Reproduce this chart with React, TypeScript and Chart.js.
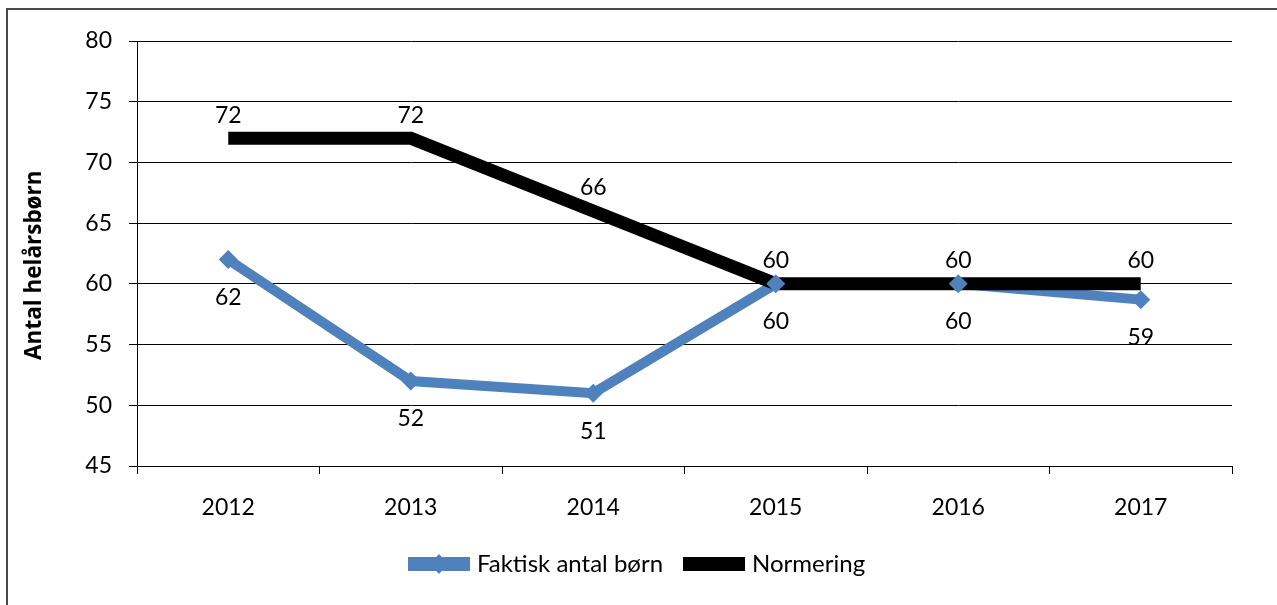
import React, { useEffect, useRef } from "react";
import { Chart, registerables } from "chart.js";

Chart.register(...registerables);

const categories = ["2012", "2013", "2014", "2015", "2016", "2017"];
const faktisk = [62, 52, 51, 60, 60, 58.7];
const normering = [72, 72, 66, 60, 60, 60];
const yTicks = [45, 50, 55, 60, 65, 70, 75, 80];
const yTitle = "Antal helårsbørn";
const faktiskLabel = "Faktisk antal børn";
const normeringLabel = "Normering";

const BLUE = "#4F81BD";
const FONT = "Lato, 'Open Sans', sans-serif";
const TITLE_FONT = "'Open Sans', Lato, sans-serif";

function legendIcon(color: string, diamond: boolean): HTMLCanvasElement {
  const c = document.createElement("canvas");
  c.width = 62;
  c.height = 22;
  const ctx = c.getContext("2d")!;
  ctx.fillStyle = color;
  ctx.fillRect(0, 4, 62, 14);
  if (diamond) {
    ctx.beginPath();
    ctx.moveTo(31, 1);
    ctx.lineTo(40, 11);
    ctx.lineTo(31, 21);
    ctx.lineTo(22, 11);
    ctx.closePath();
    ctx.fill();
  }
  return c;
}

const dataLabelPlugin = {
  id: "dataLabels",
  afterDatasetsDraw(chart: any) {
    const ctx = chart.ctx;
    ctx.save();
    ctx.font = `23px ${FONT}`;
    ctx.fillStyle = "#000";
    ctx.textAlign = "center";
    ctx.textBaseline = "middle";
    const metaN = chart.getDatasetMeta(1);
    metaN.data.forEach((pt: any, i: number) => {
      ctx.fillText(String(Math.round(normering[i])), pt.x, pt.y - 23);
    });
    const metaF = chart.getDatasetMeta(0);
    metaF.data.forEach((pt: any, i: number) => {
      ctx.fillText(String(Math.round(faktisk[i])), pt.x, pt.y + 38);
    });
    ctx.restore();
  },
};

const legendShiftPlugin = {
  id: "legendShift",
  afterLayout(chart: any) {
    if (chart.legend) {
      chart.legend.left += 13;
      chart.legend.right += 13;
    }
  },
};

export default function App() {
  const ref = useRef<HTMLCanvasElement | null>(null);

  useEffect(() => {
    if (!ref.current) return;
    const iconF = legendIcon(BLUE, true);
    const iconN = legendIcon("#000", false);
    const chart = new Chart(ref.current, {
      type: "line",
      data: {
        labels: categories,
        datasets: [
          {
            label: faktiskLabel + " markers",
            data: faktisk,
            showLine: false,
            pointStyle: "rectRot",
            pointRadius: 9.5,
            pointBackgroundColor: BLUE,
            pointBorderColor: BLUE,
            pointBorderWidth: 0,
            borderColor: BLUE,
            backgroundColor: BLUE,
            order: 1,
          },
          {
            label: normeringLabel,
            data: normering,
            borderColor: "#000",
            backgroundColor: "#000",
            borderWidth: 13,
            borderCapStyle: "butt",
            borderJoinStyle: "miter",
            pointRadius: 0,
            tension: 0,
            order: 2,
          },
          {
            label: faktiskLabel,
            data: faktisk,
            borderColor: BLUE,
            backgroundColor: BLUE,
            borderWidth: 10,
            borderCapStyle: "butt",
            borderJoinStyle: "miter",
            pointRadius: 0,
            tension: 0,
            order: 3,
          },
        ],
      },
      options: {
        animation: false,
        responsive: false,
        devicePixelRatio: 1,
        layout: { padding: { left: 20, top: 41, right: 45, bottom: 19 } },
        plugins: {
          tooltip: { enabled: false },
          legend: {
            position: "bottom",
            labels: {
              usePointStyle: true,
              pointStyleWidth: 52,
              boxHeight: 22,
              padding: 25,
              color: "#000",
              font: { family: FONT, size: 24 },
              generateLabels: () => [
                {
                  text: faktiskLabel,
                  pointStyle: iconF,
                  fillStyle: BLUE,
                  strokeStyle: BLUE,
                  lineWidth: 0,
                  datasetIndex: 2,
                  hidden: false,
                  fontColor: "#000",
                },
                {
                  text: normeringLabel,
                  pointStyle: iconN,
                  fillStyle: "#000",
                  strokeStyle: "#000",
                  lineWidth: 0,
                  datasetIndex: 1,
                  hidden: false,
                  fontColor: "#000",
                },
              ],
            },
          },
        },
        scales: {
          x: {
            type: "category",
            offset: true,
            grid: {
              offset: true,
              drawOnChartArea: false,
              drawTicks: true,
              tickLength: 8,
              color: "#000",
              lineWidth: 1,
            },
            border: { display: true, color: "#000", width: 1 },
            ticks: {
              color: "#000",
              padding: 20,
              font: { family: FONT, size: 23 },
              maxRotation: 0,
            },
            afterFit: (s: any) => {
              const lh = s.chart.legend ? s.chart.legend.height : 0;
              s.height = 605 - 466 - 19 - lh;
            },
          },
          y: {
            min: 45,
            max: 80,
            afterBuildTicks: (s: any) => {
              s.ticks = yTicks.map((v) => ({ value: v }));
            },
            grid: {
              color: "#000",
              lineWidth: 1,
              drawTicks: true,
              tickLength: 8,
            },
            border: { display: true, color: "#000", width: 1 },
            ticks: {
              color: "#000",
              padding: 17,
              font: { family: FONT, size: 23 },
            },
            title: {
              display: true,
              text: yTitle + "    ",
              color: "#000",
              font: { family: TITLE_FONT, size: 22.5, weight: "bold" },
              padding: { top: 1, bottom: 0 },
            },
            afterFit: (s: any) => {
              s.width = 137 - 20;
            },
          },
        },
      },
      plugins: [dataLabelPlugin, legendShiftPlugin],
    });
    return () => chart.destroy();
  }, []);

  return (
    <div
      style={{
        position: "fixed",
        left: 0,
        top: 0,
        width: 1277,
        height: 605,
        overflow: "hidden",
        background: "#fff",
      }}
    >
      <div
        style={{
          position: "absolute",
          left: 6,
          top: 8,
          width: 1400,
          height: 800,
          border: "2px solid #4a4a4a",
          boxSizing: "border-box",
        }}
      />
      <canvas
        ref={ref}
        width={1277}
        height={605}
        style={{ position: "absolute", left: 0, top: 0, width: 1277, height: 605 }}
      />
    </div>
  );
}
